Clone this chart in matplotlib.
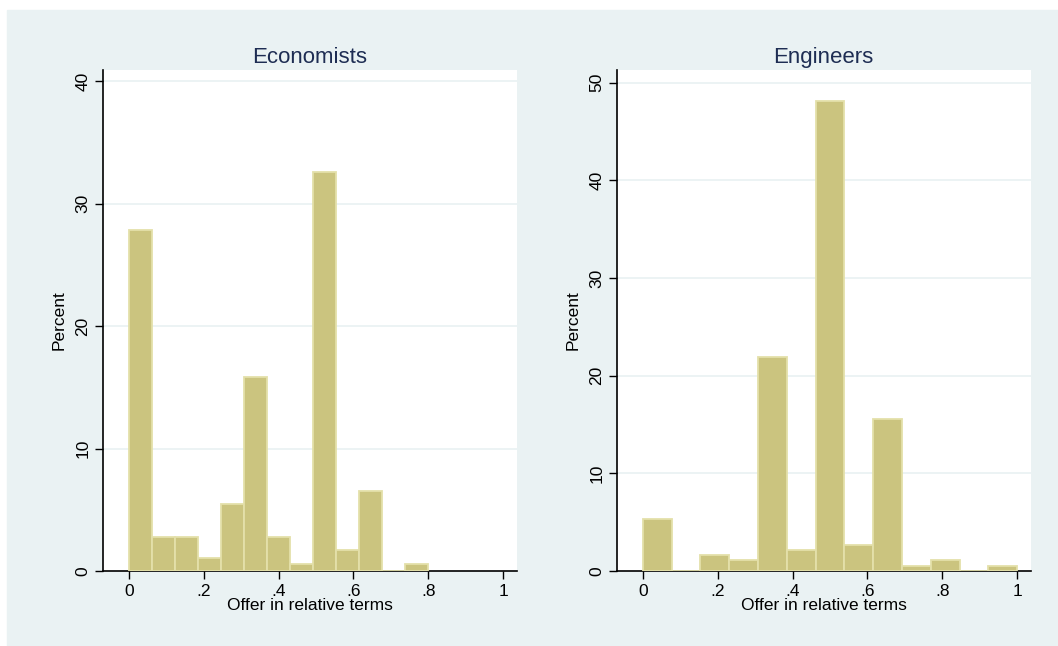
import numpy as np
import matplotlib
matplotlib.use("Agg")
import matplotlib.pyplot as plt
from matplotlib.patches import Rectangle

# histogram data (percent per bin)
econ_edges = np.linspace(0, 0.8, 14)
econ_pct = [27.8, 2.8, 2.8, 1.1, 5.5, 15.8, 2.8, 0.57, 32.6, 1.7, 6.55, 0.0, 0.57]

eng_edges = np.linspace(0, 1, 14)
eng_pct = [5.3, 0.0, 1.6, 1.1, 21.9, 2.1, 48.1, 2.7, 15.6, 0.55, 1.1, 0.0, 0.55]

xticks = [0, 0.2, 0.4, 0.6, 0.8, 1]
xticklabels = ["0", ".2", ".4", ".6", ".8", "1"]

plt.rcParams['font.family'] = ['Liberation Sans', 'DejaVu Sans']

W, H = 1058, 646
fig = plt.figure(figsize=(W / 100, H / 100), dpi=100, facecolor="white")

# light blue-grey graph region (behind the axes)
fig.patches.append(Rectangle((7 / W, 0), 1 - 7 / W, (H - 10) / H,
                             transform=fig.transFigure, color="#EAF2F3", zorder=-10))

bar_face = "#CBC47F"
bar_edge = "#E4E0AA"
grid_col = "#EAF2F3"
title_col = "#1E2D53"


def draw_panel(left, edges, pct, ylim, yticks, title):
    ax = fig.add_axes([left / W, 1 - 571 / H, 414 / W, 501 / H])
    ax.set_zorder(1)
    ax.set_facecolor("white")
    widths = np.diff(edges)
    ax.bar(edges[:-1], pct, width=widths, align="edge", color=bar_face,
           edgecolor=bar_edge, linewidth=1.3, zorder=3)
    ax.set_xlim(-0.07, 1.036)
    ax.set_ylim(0, ylim)
    ax.set_xticks(xticks)
    ax.set_xticklabels(xticklabels, fontsize=12.5)
    ax.set_yticks(yticks)
    ax.set_yticklabels([str(t) for t in yticks], fontsize=12.5, rotation=90, va="center")
    for t in yticks[1:]:
        ax.axhline(t, color=grid_col, lw=1.3, zorder=1)
    for s in ["top", "right"]:
        ax.spines[s].set_visible(False)
    for s in ["left", "bottom"]:
        ax.spines[s].set_color("black")
        ax.spines[s].set_linewidth(1.2)
    ax.tick_params(axis="both", direction="out", length=6, width=1, color="black", pad=3)
    ax.set_ylabel("Percent", fontsize=12.5, labelpad=6)
    ax.set_xlabel("Offer in relative terms", fontsize=12.5, labelpad=0)
    ax.set_title(title, fontsize=16, color=title_col, pad=5)
    return ax


draw_panel(102.7, econ_edges, econ_pct, 40.9, [0, 10, 20, 30, 40], "Economists")
draw_panel(616.7, eng_edges, eng_pct, 51.3, [0, 10, 20, 30, 40, 50], "Engineers")

fig.savefig("out.png", dpi=100, facecolor="white")
